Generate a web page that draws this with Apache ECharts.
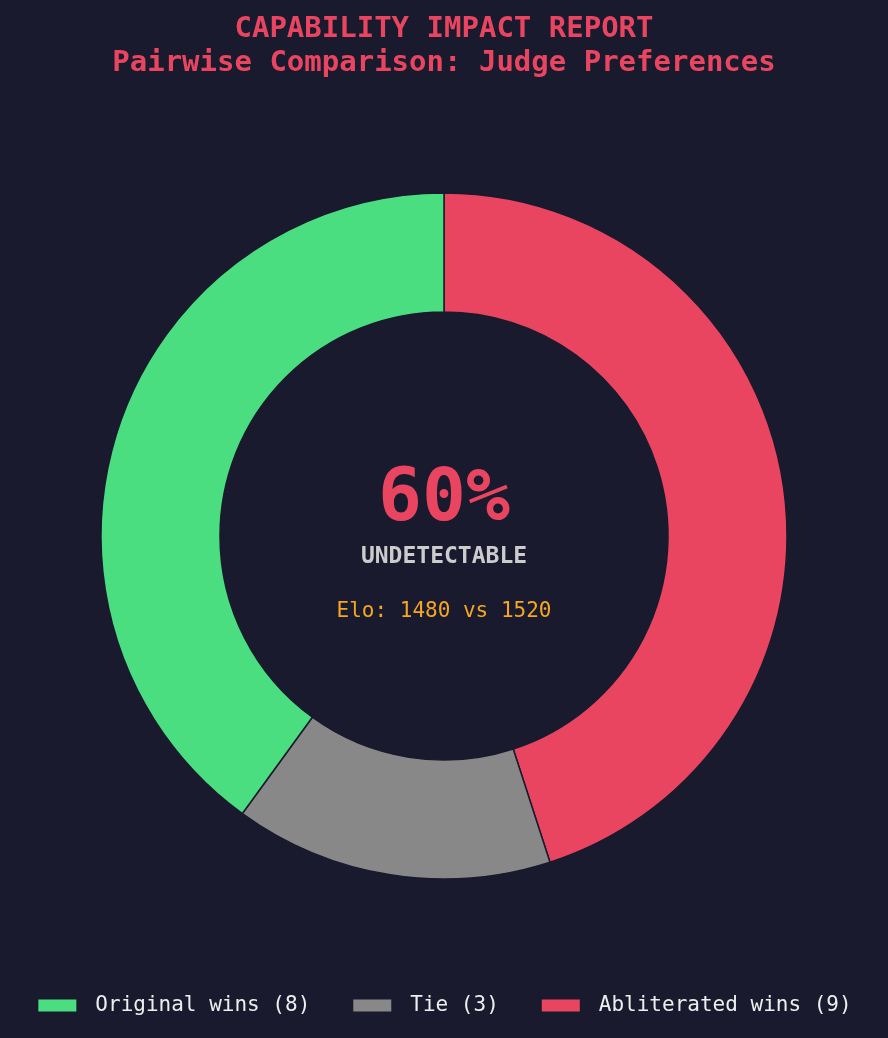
<!DOCTYPE html>
<html>
<head>
<meta charset="utf-8">
<script src="https://cdn.jsdelivr.net/npm/echarts@6/dist/echarts.min.js"></script>
<style>
html,body{margin:0;padding:0;background:#1a1a2e;}
#chart{width:888px;height:1038px;}
</style>
</head>
<body>
<div id="chart"></div>
<script>
const categories = ['Abliterated wins', 'Tie', 'Original wins'];
const values = [9, 3, 8];
const colors = ['#e94560', '#888888', '#4ade80'];
const legendOrder = ['Original wins', 'Tie', 'Abliterated wins'];
const titleLines = ['CAPABILITY IMPACT REPORT', 'Pairwise Comparison: Judge Preferences'];
const centerPct = '60%';
const centerLabel = 'UNDETECTABLE';
const eloText = 'Elo: 1480 vs 1520';

const FONT = '"DejaVu Sans Mono", monospace';
const names = categories.map((c, i) => c + ' (' + values[i] + ')');
const nameOf = {};
categories.forEach((c, i) => nameOf[c] = names[i]);

const chart = echarts.init(document.getElementById('chart'), null, {renderer: 'canvas'});
chart.setOption({
  backgroundColor: '#1a1a2e',
  animation: false,
  title: titleLines.map((t, i) => ({
    text: t,
    left: 'center',
    top: 12 + i * 34,
    padding: 0,
    textStyle: { fontFamily: FONT, fontSize: 29, fontWeight: 'bold', color: '#e94560', lineHeight: 34 }
  })),
  legend: {
    data: legendOrder.map(c => nameOf[c]),
    bottom: 17,
    left: 'center',
    itemWidth: 40,
    itemHeight: 14,
    itemGap: 41,
    icon: 'rect',
    textStyle: { fontFamily: FONT, fontSize: 21, color: '#eeeeee', padding: [0, 0, 0, 13] }
  },
  series: [{
    type: 'pie',
    center: [444, 536],
    radius: [224, 343],
    startAngle: 90,
    clockwise: true,
    label: { show: false },
    labelLine: { show: false },
    emphasis: { disabled: true },
    itemStyle: { borderColor: '#1a1a2e', borderWidth: 1.5 },
    data: categories.map((c, i) => ({
      name: names[i], value: values[i], itemStyle: { color: colors[i] }
    }))
  }],
  graphic: [
    { type: 'text', left: 'center', top: 497 - 32, style: {
      text: centerPct, fontFamily: FONT, fontSize: 73, fontWeight: 'bold', fill: '#e94560'
    }},
    { type: 'text', left: 'center', top: 556 - 10, style: {
      text: centerLabel, fontFamily: FONT, fontSize: 23, fontWeight: 'bold', fill: '#cccccc'
    }},
    { type: 'text', left: 'center', top: 610 - 9, style: {
      text: eloText, fontFamily: FONT, fontSize: 21, fill: '#f5a623'
    }}
  ]
});
</script>
</body>
</html>
